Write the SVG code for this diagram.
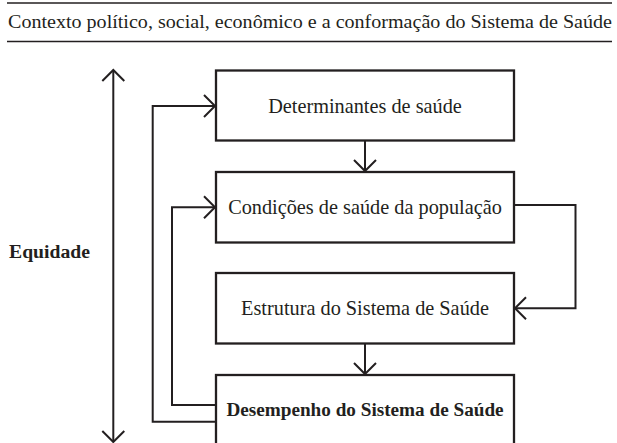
<svg xmlns="http://www.w3.org/2000/svg" width="617" height="443" viewBox="0 0 617 443">
<style>
.t{font-family:"Liberation Serif","Times New Roman",serif;font-size:20.3px;fill:#231f20}
.b{font-weight:bold}
.box{fill:#fff;stroke:#231f20;stroke-width:2.3}
.c{fill:none;stroke:#231f20;stroke-width:2}
.rule{stroke:#231f20;stroke-width:1.5}
</style>
<defs>
<marker id="ah" viewBox="-12 -12 14 24" markerWidth="14" markerHeight="24" refX="0" refY="0" orient="auto" markerUnits="userSpaceOnUse">
<path d="M-11,-11 L0,0 L-11,11" fill="none" stroke="#231f20" stroke-width="2"/>
</marker>
</defs>
<line class="rule" x1="7" y1="3" x2="612" y2="3"/>
<text class="t" x="8" y="28" style="font-size:19.5px" textLength="604" lengthAdjust="spacingAndGlyphs">Contexto político, social, econômico e a conformação do Sistema de Saúde</text>
<line class="rule" x1="7" y1="41.5" x2="612" y2="41.5"/>
<g id="equidade">
<text class="t b" x="9" y="258" style="font-size:19.7px">Equidade</text>
</g>
<g id="n1">
<rect class="box" x="216" y="70.5" width="298" height="70"/>
<text class="t" x="365" y="113" text-anchor="middle">Determinantes de saúde</text>
</g>
<g id="n2">
<rect class="box" x="216" y="172" width="298" height="70.5"/>
<text class="t" x="365" y="213.5" text-anchor="middle">Condições de saúde da população</text>
</g>
<g id="n3">
<rect class="box" x="216" y="273" width="298" height="70.5"/>
<text class="t" x="365" y="315" text-anchor="middle">Estrutura do Sistema de Saúde</text>
</g>
<g id="n4">
<rect class="box" x="216" y="375" width="298" height="80"/>
<text class="t b" x="365" y="416" text-anchor="middle" style="font-size:19.2px">Desempenho do Sistema de Saúde</text>
</g>
<g id="connectors">
<line class="c" x1="113.3" y1="256" x2="113.3" y2="70" marker-end="url(#ah)"/>
<line class="c" x1="113.3" y1="256" x2="113.3" y2="442" marker-end="url(#ah)"/>
<polyline class="c" points="216,421.7 152.7,421.7 152.7,106 215,106" marker-end="url(#ah)"/>
<polyline class="c" points="216,405 172,405 172,207.3 215,207.3" marker-end="url(#ah)"/>
<polyline class="c" points="514,205 575.5,205 575.5,308.3 515,308.3" marker-end="url(#ah)"/>
<line class="c" x1="365" y1="141" x2="365" y2="171" marker-end="url(#ah)"/>
<line class="c" x1="365" y1="344" x2="365" y2="374" marker-end="url(#ah)"/>
</g>
</svg>
